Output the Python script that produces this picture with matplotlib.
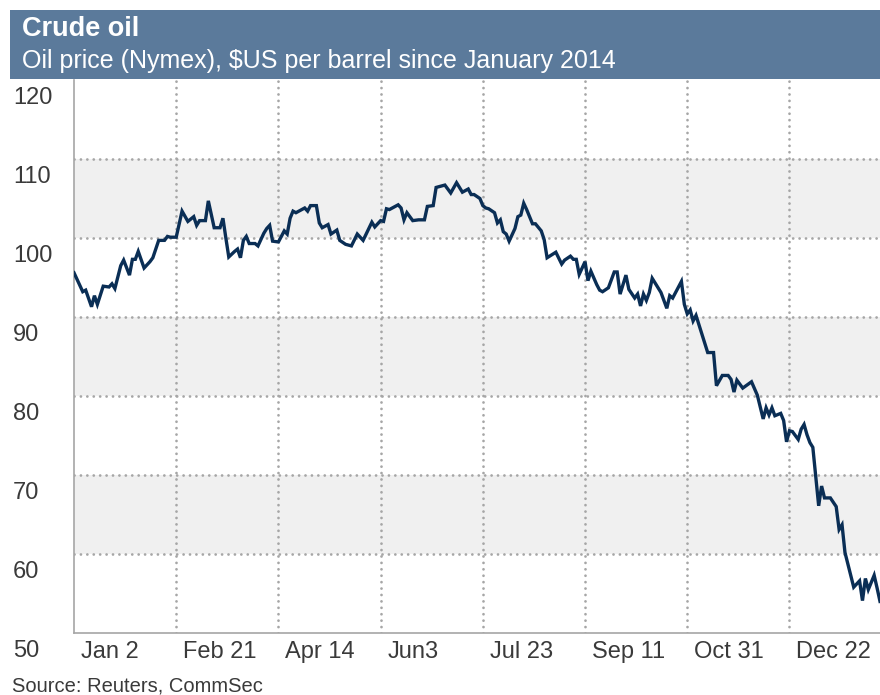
import matplotlib.pyplot as plt
from matplotlib.patches import Rectangle

# trading-day index (0 = Jan 2) and WTI price
day = [0, 3, 4, 6, 7, 8, 10, 12, 13, 14, 16, 17, 19, 20, 21, 22, 24, 26, 27, 29,
       31, 32, 33, 35, 37, 39, 41, 42, 43, 45, 46, 48, 50, 51, 52, 53, 55, 56, 57, 58,
       59, 60, 61, 62, 63, 65, 66, 67, 68, 70, 72, 73, 74, 75, 76, 79, 80, 81, 83, 84,
       85, 87, 88, 90, 91, 93, 95, 97, 99, 102, 103, 105, 106, 107, 108, 111, 112, 113, 114, 116,
       118, 120, 121, 123, 124, 127, 129, 131, 133, 135, 136, 137, 139, 140, 141, 142, 144, 145, 146, 147,
       148, 149, 151, 152, 153, 154, 155, 157, 158, 160, 161, 162, 165, 167, 168, 170, 171, 172, 173, 175,
       176, 177, 179, 180, 181, 183, 184, 185, 186, 187, 189, 190, 192, 193, 194, 195, 196, 197, 198, 201,
       203, 204, 205, 208, 209, 210, 211, 212, 213, 217, 219, 220, 222, 224, 225, 226, 227, 229, 232, 234,
       236, 237, 238, 239, 240, 242, 243, 244, 245, 246, 248, 249, 250, 251, 252, 253, 255, 256, 257, 259,
       261, 262, 263, 264, 267, 269, 270, 271, 272, 274, 275, 276]
price = [95.6, 93.2, 93.4, 91.3, 92.7, 91.6, 93.9, 93.8, 94.2, 93.6, 96.5, 97.2, 95.3, 97.3, 97.3, 98.3, 96.2, 97.0, 97.5, 99.7,
         99.7, 100.2, 100.1, 100.1, 103.4, 102.1, 102.7, 101.6, 102.2, 102.2, 104.7, 101.3, 101.3, 102.5, 100.0, 97.6, 98.3, 98.6, 97.5, 99.7,
         100.2, 99.3, 99.3, 99.3, 99.0, 100.6, 101.2, 101.6, 99.6, 99.5, 100.9, 100.5, 102.5, 103.4, 103.2, 103.8, 103.4, 104.1, 104.1, 101.9,
         101.3, 101.7, 100.5, 101.0, 99.7, 99.2, 99.0, 100.5, 99.7, 102.0, 101.4, 102.2, 102.1, 103.7, 103.6, 104.2, 103.8, 102.3, 103.2, 102.2,
         102.3, 102.3, 104.0, 104.1, 106.4, 106.7, 105.7, 107.0, 105.8, 106.2, 105.5, 105.5, 105.0, 104.1, 103.8, 103.7, 103.2, 101.9, 102.3, 100.8,
         100.5, 99.6, 101.2, 102.7, 102.9, 104.4, 103.6, 101.8, 101.8, 100.9, 99.8, 97.5, 98.2, 96.7, 97.2, 97.7, 97.3, 97.3, 95.4, 97.0,
         94.6, 95.8, 94.1, 93.4, 93.2, 93.7, 94.7, 95.7, 95.7, 92.9, 95.3, 93.5, 92.4, 92.9, 91.4, 92.9, 92.1, 93.1, 94.9, 93.1,
         91.1, 92.7, 92.4, 94.5, 91.6, 90.4, 90.9, 89.5, 90.2, 85.5, 85.5, 81.3, 82.6, 82.6, 82.1, 80.5, 82.0, 81.0, 81.8, 80.1,
         77.1, 78.5, 77.6, 78.5, 77.5, 77.8, 76.9, 74.2, 75.6, 75.5, 74.5, 75.8, 76.4, 75.1, 74.1, 73.5, 66.1, 68.6, 67.1, 67.1,
         66.0, 63.1, 63.7, 60.2, 55.8, 56.6, 54.1, 56.9, 55.5, 57.3, 55.7, 54.0]

tick_days = [0, 35, 70, 105, 140, 175, 210, 245]
tick_labels = ["Jan 2", "Feb 21", "Apr 14", "Jun3", "Jul 23", "Sep 11", "Oct 31", "Dec 22"]
y_ticks = [50, 60, 70, 80, 90, 100, 110, 120]
shaded = [(60, 70), (80, 90), (100, 110)]

title = "Crude oil"
subtitle = "Oil price (Nymex), $US per barrel since January 2014"
source = "Source: Reuters, CommSec"

plt.rcParams['font.family'] = ['Liberation Sans', 'DejaVu Sans']
W, H = 880, 695
text_c = '#3a3a3a'
grid_c = '#a6a6a6'

fig = plt.figure(figsize=(W / 100, H / 100), dpi=100)
ax = fig.add_axes([74 / W, 1 - 633 / H, (W - 74) / W, (633 - 80) / H])

for lo, hi in shaded:
    ax.axhspan(lo, hi, color='#f0f0f0', lw=0, zorder=0)

ax.plot(day, price, color='#0a2e55', lw=2.4, solid_joinstyle='miter', zorder=3)

ax.set_xlim(0, 276)
ax.set_ylim(50, 120)
ax.set_xticks(tick_days)
ax.set_yticks(y_ticks)
ax.tick_params(length=0, labelbottom=False, labelleft=False)
ax.grid(True, color=grid_c, linestyle=(0, (0.01, 2.3)), lw=2.0, dash_capstyle='round')
ax.set_axisbelow(True)
ax.xaxis.get_gridlines()[0].set_visible(False)
ax.yaxis.get_gridlines()[0].set_visible(False)
ax.yaxis.get_gridlines()[-1].set_visible(False)
for s in ('top', 'right'):
    ax.spines[s].set_visible(False)
for s in ('left', 'bottom'):
    ax.spines[s].set_color(grid_c)
    ax.spines[s].set_linewidth(1.2)

for d, lab in zip(tick_days, tick_labels):
    ax.annotate(lab, xy=(d, 0), xycoords=('data', 'axes fraction'), xytext=(7, -19),
                textcoords='offset pixels', ha='left', va='center', fontsize=17, color=text_c)
for v in y_ticks:
    ax.annotate(str(v), xy=(0, v), xycoords=('axes fraction', 'data'), xytext=(-61, -18),
                textcoords='offset pixels', ha='left', va='center', fontsize=17,
                color=text_c, annotation_clip=False)

fig.patches.append(Rectangle((10 / W, 1 - 79 / H), (W - 10) / W, 69 / H, transform=fig.transFigure,
                             color='#5b7a9b', lw=0))
fig.text(22 / W, 1 - 29 / H, title, color='white', fontsize=19.5, fontweight='bold', va='center')
fig.text(22 / W, 1 - 61 / H, subtitle, color='white', fontsize=18, va='center')
fig.text(12 / W, 1 - 686 / H, source, color=text_c, fontsize=14.5, va='center')

fig.savefig('out.png', dpi=100)
